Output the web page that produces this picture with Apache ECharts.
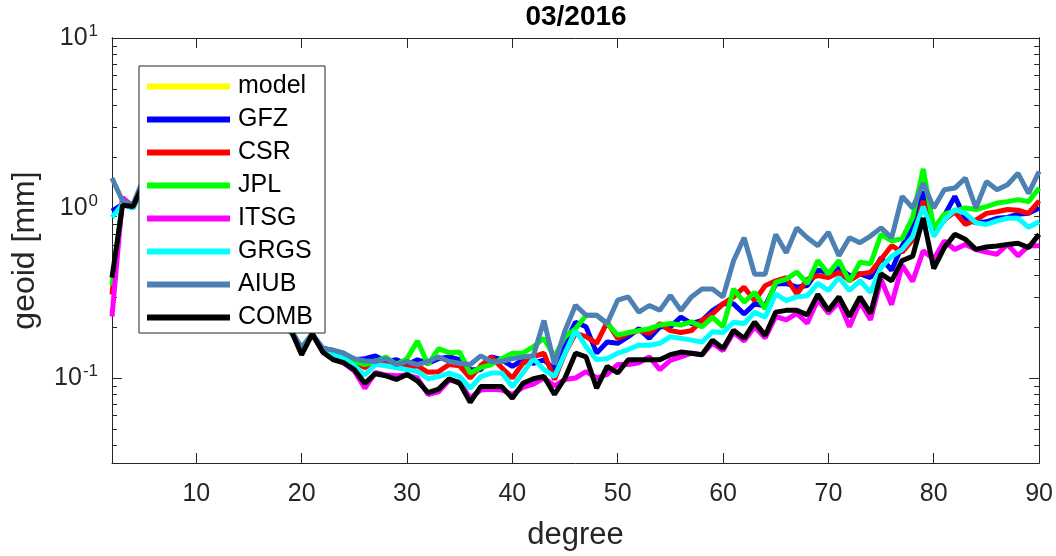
<!DOCTYPE html>
<html><head><meta charset="utf-8">
<script src="https://cdn.jsdelivr.net/npm/echarts@6/dist/echarts.min.js"></script>
<style>html,body{margin:0;padding:0;background:#fff}#c{width:1056px;height:556px}</style>
</head><body><div id="c"></div>
<script>
// ---- data ----
const degrees = [2,3,4,5,6,7,8,9,10,11,
  12,13,14,15,16,17,18,19,20,21,
  22,23,24,25,26,27,28,29,30,31,
  32,33,34,35,36,37,38,39,40,41,
  42,43,44,45,46,47,48,49,50,51,
  52,53,54,55,56,57,58,59,60,61,
  62,63,64,65,66,67,68,69,70,71,
  72,73,74,75,76,77,78,79,80,81,
  82,83,84,85,86,87,88,89,90];
const seriesNames = ['model','GFZ','CSR','JPL','ITSG','GRGS','AIUB','COMB'];
const modelValues = [];
const gfzValues = [0.96,1.05,1.0,1.4,1.2,1.05,0.92,0.8,0.7,0.6,
  0.52,0.45,0.38,0.32,0.27,0.23,0.2,0.19,0.15,0.18,
  0.15,0.145,0.138,0.128,0.13,0.135,0.125,0.128,0.12,0.128,
  0.122,0.13,0.133,0.128,0.112,0.112,0.133,0.128,0.117,0.128,
  0.122,0.128,0.112,0.16,0.213,0.2,0.14,0.163,0.16,0.175,
  0.195,0.171,0.2,0.2,0.228,0.209,0.218,0.249,0.273,0.273,
  0.238,0.273,0.265,0.357,0.36,0.342,0.35,0.43,0.418,0.447,
  0.4,0.41,0.39,0.51,0.43,0.6,0.76,1.25,0.72,0.9,
  1.17,0.86,0.82,0.83,0.87,0.88,0.92,0.93,1.0];
const csrValues = [0.31,1.12,1.0,1.45,1.22,1.05,0.93,0.8,0.7,0.6,
  0.52,0.45,0.38,0.32,0.27,0.23,0.2,0.19,0.145,0.18,
  0.148,0.14,0.135,0.125,0.115,0.123,0.12,0.118,0.115,0.118,
  0.108,0.109,0.12,0.118,0.1,0.118,0.133,0.115,0.1,0.122,
  0.133,0.14,0.098,0.14,0.183,0.175,0.16,0.213,0.171,0.183,
  0.19,0.183,0.209,0.19,0.185,0.19,0.218,0.238,0.273,0.3,
  0.342,0.285,0.349,0.373,0.39,0.312,0.38,0.4,0.39,0.418,
  0.374,0.409,0.418,0.5,0.6,0.55,0.65,1.1,0.72,0.85,
  0.95,0.8,0.85,0.93,0.95,0.98,0.97,0.93,1.1];
const jplValues = [0.35,1.1,1.0,1.42,1.2,1.05,0.92,0.8,0.7,0.6,
  0.52,0.45,0.38,0.32,0.27,0.23,0.2,0.185,0.15,0.18,
  0.148,0.145,0.14,0.125,0.12,0.125,0.133,0.12,0.13,0.165,
  0.12,0.149,0.141,0.142,0.107,0.115,0.12,0.13,0.14,0.14,
  0.153,0.171,0.133,0.175,0.195,0.234,0.234,0.209,0.179,0.185,
  0.19,0.195,0.205,0.209,0.205,0.214,0.2,0.228,0.2,0.334,
  0.279,0.319,0.255,0.365,0.382,0.42,0.36,0.49,0.41,0.49,
  0.37,0.48,0.47,0.7,0.64,0.66,0.88,1.7,0.76,0.92,
  0.96,1.0,0.98,1.02,1.07,1.09,1.12,1.09,1.31];
const itsgValues = [0.23,1.15,1.02,1.4,1.2,1.05,0.92,0.8,0.7,0.6,
  0.52,0.45,0.38,0.32,0.27,0.23,0.2,0.19,0.14,0.18,
  0.145,0.13,0.122,0.11,0.087,0.108,0.104,0.103,0.104,0.1,
  0.08,0.083,0.097,0.095,0.076,0.085,0.086,0.085,0.08,0.088,
  0.092,0.1,0.09,0.098,0.1,0.109,0.1,0.105,0.12,0.12,
  0.123,0.133,0.112,0.127,0.133,0.14,0.137,0.16,0.145,0.185,
  0.165,0.2,0.172,0.23,0.22,0.24,0.21,0.29,0.24,0.28,
  0.2,0.28,0.22,0.38,0.27,0.46,0.37,0.56,0.5,0.64,
  0.57,0.61,0.57,0.55,0.535,0.61,0.523,0.6,0.6];
const grgsValues = [0.88,1.05,1.0,1.4,1.2,1.05,0.92,0.8,0.7,0.6,
  0.52,0.45,0.38,0.32,0.27,0.23,0.2,0.19,0.15,0.182,
  0.148,0.138,0.13,0.118,0.104,0.12,0.118,0.115,0.112,0.109,
  0.099,0.102,0.107,0.102,0.087,0.102,0.107,0.107,0.089,0.107,
  0.13,0.112,0.102,0.14,0.19,0.153,0.128,0.13,0.14,0.147,
  0.156,0.156,0.16,0.175,0.171,0.167,0.163,0.187,0.185,0.213,
  0.209,0.244,0.228,0.312,0.285,0.3,0.305,0.36,0.327,0.39,
  0.327,0.373,0.319,0.447,0.52,0.57,0.68,1.02,0.68,0.85,
  0.98,0.93,0.82,0.8,0.84,0.87,0.87,0.77,0.83];
const aiubValues = [1.5,1.1,1.05,1.5,1.25,1.08,0.95,0.82,0.72,0.62,
  0.53,0.46,0.39,0.33,0.28,0.24,0.2,0.19,0.15,0.182,
  0.149,0.146,0.14,0.13,0.126,0.125,0.13,0.12,0.125,0.12,
  0.125,0.133,0.125,0.122,0.12,0.135,0.125,0.125,0.13,0.133,
  0.135,0.218,0.12,0.19,0.268,0.234,0.234,0.209,0.287,0.3,
  0.244,0.267,0.25,0.306,0.25,0.3,0.334,0.334,0.3,0.489,
  0.668,0.408,0.408,0.699,0.546,0.764,0.668,0.6,0.72,0.523,
  0.668,0.625,0.684,0.764,0.668,1.17,1.0,1.4,1.0,1.28,
  1.31,1.5,1.0,1.43,1.28,1.37,1.6,1.22,1.64];
const combValues = [0.39,1.04,1.02,1.4,1.2,1.05,0.92,0.8,0.7,0.6,
  0.52,0.45,0.38,0.32,0.27,0.23,0.2,0.19,0.137,0.182,
  0.142,0.128,0.123,0.112,0.093,0.106,0.103,0.098,0.105,0.096,
  0.082,0.086,0.099,0.093,0.072,0.089,0.089,0.089,0.076,0.093,
  0.099,0.102,0.08,0.1,0.14,0.133,0.087,0.117,0.107,0.128,
  0.128,0.128,0.128,0.137,0.142,0.14,0.137,0.167,0.149,0.191,
  0.171,0.213,0.178,0.244,0.25,0.25,0.235,0.31,0.25,0.3,
  0.23,0.3,0.24,0.41,0.373,0.49,0.52,0.874,0.44,0.585,
  0.7,0.654,0.571,0.59,0.598,0.61,0.62,0.585,0.7];
const xTickValues = [10,20,30,40,50,60,70,80,90];
const yMajorTicks = [0.1,1,10];
const yMinorTicks = [0.04,0.05,0.06,0.07,0.08,0.09,0.2,0.3,0.4,0.5,0.6,0.7,0.8,0.9,2,3,4,5,6,7,8,9];
const titleText = '03/2016';
const xName = 'degree';
const yName = 'geoid [mm]';

// ---- styling ----
const colors = ['#ffff00','#0000ff','#ff0000','#00ff00','#ff00ff','#00ffff','#4d80b3','#000000'];
const allValues = [modelValues,gfzValues,csrValues,jplValues,itsgValues,grgsValues,aiubValues,combValues];
const FONT = 'Liberation Sans';
const AX = '#262626';
const yMin = Math.pow(10,-1.5), yMax = 10;

function pairs(vals){ return vals.map((v,i)=>[degrees[i], v]); }

const series = seriesNames.map((n,k)=>({
  name:n, type:'line', data:pairs(allValues[k]), xAxisIndex:0, yAxisIndex:0,
  showSymbol:false, symbol:'none', animation:false,
  lineStyle:{color:colors[k], width:5}, itemStyle:{color:colors[k]},
  emphasis:{disabled:true}
}));

function yAxisCfg(pos, ticks, len, labels, name){
  const c = {type:'log', logBase:10, min:yMin, max:yMax, position:pos,
    axisLine:{show:true, lineStyle:{color:AX, width:1}},
    axisTick:{show:true, inside:true, length:len, customValues:ticks, lineStyle:{color:AX, width:1}},
    splitLine:{show:false}, minorTick:{show:false}, minorSplitLine:{show:false},
    axisLabel:{show:false}};
  if (labels){
    c.axisLabel = {show:true, customValues:ticks, margin:14, color:AX, fontFamily:FONT,
      formatter:function(v){ const e = Math.round(Math.log10(v)); return '{b|10}{s|'+e+'}'; },
      rich:{b:{fontSize:25, fontFamily:FONT, color:AX, lineHeight:32},
            s:{fontSize:17, fontFamily:FONT, color:AX, padding:[0,0,13,1]}}};
    c.name = name; c.nameLocation = 'middle'; c.nameGap = 71;
    c.nameTextStyle = {fontSize:32, fontFamily:FONT, color:AX};
  }
  return c;
}

const option = {
  backgroundColor:'#ffffff',
  animation:false,
  title:{text:titleText, left:576, top:3, textAlign:'center', padding:0,
    textStyle:{fontSize:28, fontWeight:'bold', color:'#000', fontFamily:FONT}},
  grid:{left:112, right:15.5, top:38, bottom:89, containLabel:false},
  legend:{data:seriesNames, orient:'vertical', left:139, top:66, icon:'rect',
    itemWidth:83, itemHeight:6, itemGap:8, padding:[8,12,3,8],
    backgroundColor:'#ffffff', borderColor:AX, borderWidth:1, borderRadius:0,
    selectedMode:false, z:10,
    textStyle:{fontSize:25, lineHeight:25, color:'#000', fontFamily:FONT, padding:[0,0,0,3]}},
  xAxis:[
    {type:'value', min:2, max:90, position:'bottom',
      axisLine:{show:true, onZero:false, lineStyle:{color:AX, width:1}},
      axisTick:{show:true, inside:true, length:10, customValues:xTickValues, lineStyle:{color:AX}},
      axisLabel:{customValues:xTickValues, fontSize:25, color:AX, fontFamily:FONT, margin:19},
      splitLine:{show:false},
      name:xName, nameLocation:'middle', nameGap:57,
      nameTextStyle:{fontSize:31, color:AX, fontFamily:FONT}},
    {type:'value', min:2, max:90, position:'top',
      axisLine:{show:true, onZero:false, lineStyle:{color:AX, width:1}},
      axisTick:{show:true, inside:true, length:10, customValues:xTickValues, lineStyle:{color:AX}},
      axisLabel:{show:false}, splitLine:{show:false}}
  ],
  yAxis:[
    yAxisCfg('left', yMajorTicks, 10, true, yName),
    yAxisCfg('left', yMinorTicks, 5, false),
    yAxisCfg('right', yMajorTicks, 10, false),
    yAxisCfg('right', yMinorTicks, 5, false)
  ],
  series:series
};
const chart = echarts.init(document.getElementById('c'), null, {renderer:'canvas'});
chart.setOption(option);
</script>
</body></html>
